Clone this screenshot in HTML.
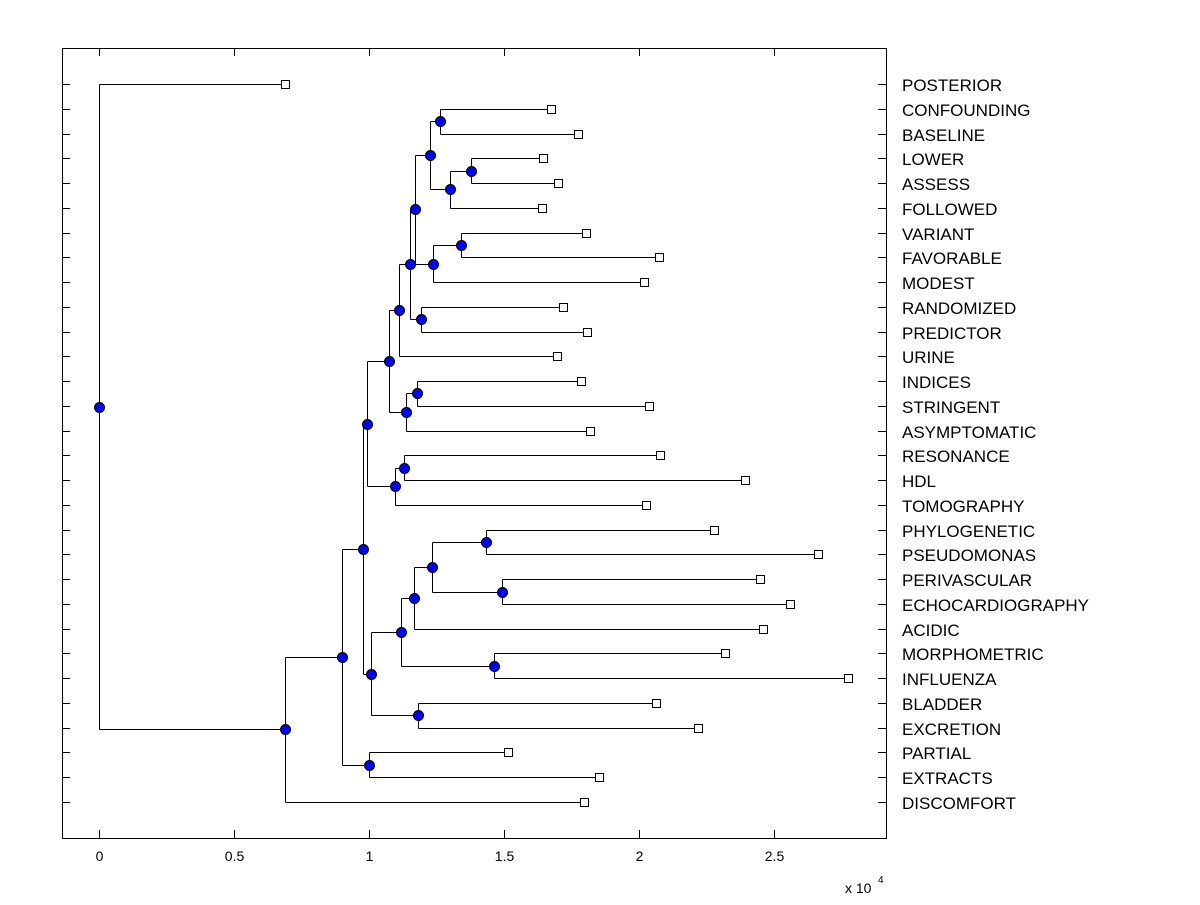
<!DOCTYPE html>
<html><head><meta charset="utf-8"><style>
body{margin:0;background:#fff;}
svg text{font-family:"Liberation Sans",Arial,sans-serif;}
</style></head><body>
<svg id="chart" width="1200" height="900" xmlns="http://www.w3.org/2000/svg">
<rect x="0" y="0" width="1200" height="900" fill="#fff"/>
<g id="g"></g>
</svg>
<script>
const leafNames=["POSTERIOR","CONFOUNDING","BASELINE","LOWER","ASSESS","FOLLOWED","VARIANT","FAVORABLE","MODEST","RANDOMIZED","PREDICTOR","URINE","INDICES","STRINGENT","ASYMPTOMATIC","RESONANCE","HDL","TOMOGRAPHY","PHYLOGENETIC","PSEUDOMONAS","PERIVASCULAR","ECHOCARDIOGRAPHY","ACIDIC","MORPHOMETRIC","INFLUENZA","BLADDER","EXCRETION","PARTIAL","EXTRACTS","DISCOMFORT"];
const leafDist=[6889,16741,17741,16444,17000,16407,18037,20741,20185,17185,18074,16963,17852,20370,18185,20778,23926,20259,22778,26630,24481,25593,24593,23185,27741,20630,22185,15148,18519,17963];
const nodeNames=["root","A","B","C","D","E","F","G","H","I","J","K","L","M","N","O","P","Q","R","S","T","U","V","W","X","Y","Z","AA","BB"];
const nodeDist=[0,6889,9000,9778,10000,9926,10074,10741,10963,11296,11111,11370,11778,11519,11704,11926,12259,12370,13407,12630,13000,13778,11185,11815,11667,14630,12333,14333,14926];
const nodeChildren=[["POSTERIOR","A"],["B","DISCOMFORT"],["C","D"],["E","F"],["PARTIAL","EXTRACTS"],["G","H"],["V","W"],["J","K"],["I","TOMOGRAPHY"],["RESONANCE","HDL"],["M","URINE"],["L","ASYMPTOMATIC"],["INDICES","STRINGENT"],["N","O"],["P","Q"],["RANDOMIZED","PREDICTOR"],["S","T"],["R","MODEST"],["VARIANT","FAVORABLE"],["CONFOUNDING","BASELINE"],["U","FOLLOWED"],["LOWER","ASSESS"],["X","Y"],["BLADDER","EXCRETION"],["Z","ACIDIC"],["MORPHOMETRIC","INFLUENZA"],["AA","BB"],["PHYLOGENETIC","PSEUDOMONAS"],["PERIVASCULAR","ECHOCARDIOGRAPHY"]];
const xTicks=[0,0.5,1,1.5,2,2.5];

const L=62,R=886,T=48,B=838;
const xs=v=>99+v*270/10000;
const ys=i=>84+i*(802-84)/(leafNames.length-1);
const g=document.getElementById('g');
const NS="http://www.w3.org/2000/svg";
function mk(t,a){const e=document.createElementNS(NS,t);for(const k in a)e.setAttribute(k,a[k]);g.appendChild(e);return e;}
let e=mk('rect',{x:L+0.5,y:T+0.5,width:R-L,height:B-T,fill:'none',stroke:'#000','stroke-width':1});


leafNames.forEach((n,i)=>{
  const y=Math.round(ys(i))+0.5;
  let t=mk('line',{x1:L,x2:L+8,y1:y,y2:y,stroke:'#000'});
  
  
  t=mk('line',{x1:R-8,x2:R,y1:y,y2:y,stroke:'#000'});
  
  
  const tx=mk('text',{x:902,y:y+6.5,'font-size':17,fill:'#000'});tx.textContent=n;
  
  
});
xTicks.forEach(v=>{
  const x=Math.round(xs(v*10000))+0.5;
  let t=mk('line',{x1:x,x2:x,y1:T,y2:T+8,stroke:'#000'});
  
  
  t=mk('line',{x1:x,x2:x,y1:B-8,y2:B,stroke:'#000'});
  
  
  const tx=mk('text',{x:x,y:861,'font-size':14,'text-anchor':'middle'});tx.textContent=String(v);
  
  
});
let ex=mk('text',{x:845,y:893,'font-size':14});ex.textContent='x 10';


let ex2=mk('text',{x:878,y:883,'font-size':10});ex2.textContent='4';


const pos={};
leafNames.forEach((n,i)=>pos[n]={x:xs(leafDist[i]),y:ys(i)});
function getPos(n){
  if(pos[n])return pos[n];
  const k=nodeNames.indexOf(n);
  const c=nodeChildren[k].map(getPos);
  pos[n]={x:xs(nodeDist[k]),y:(c[0].y+c[1].y)/2};
  return pos[n];
}
nodeNames.forEach(getPos);
const r=v=>Math.round(v)+0.5;
nodeNames.forEach((n,k)=>{
  const p=pos[n],c=nodeChildren[k].map(m=>pos[m]);
  let l=mk('line',{x1:r(p.x),x2:r(p.x),y1:r(c[0].y),y2:r(c[1].y),stroke:'#000'});
  
  
  c.forEach(q=>{
    l=mk('line',{x1:r(p.x),x2:r(q.x),y1:r(q.y),y2:r(q.y),stroke:'#000'});
    
    
  });
});
nodeNames.forEach(n=>{
  const p=pos[n];
  const c=mk('circle',{cx:r(p.x),cy:r(p.y),r:5,fill:'#0000ff',stroke:'#000','stroke-width':1});
  
  
});
leafNames.forEach(n=>{
  const p=pos[n];
  const s=mk('rect',{x:r(p.x)-4,y:r(p.y)-4,width:8,height:8,fill:'#fff',stroke:'#000','stroke-width':1});
  
  
});
</script>
</body></html>
